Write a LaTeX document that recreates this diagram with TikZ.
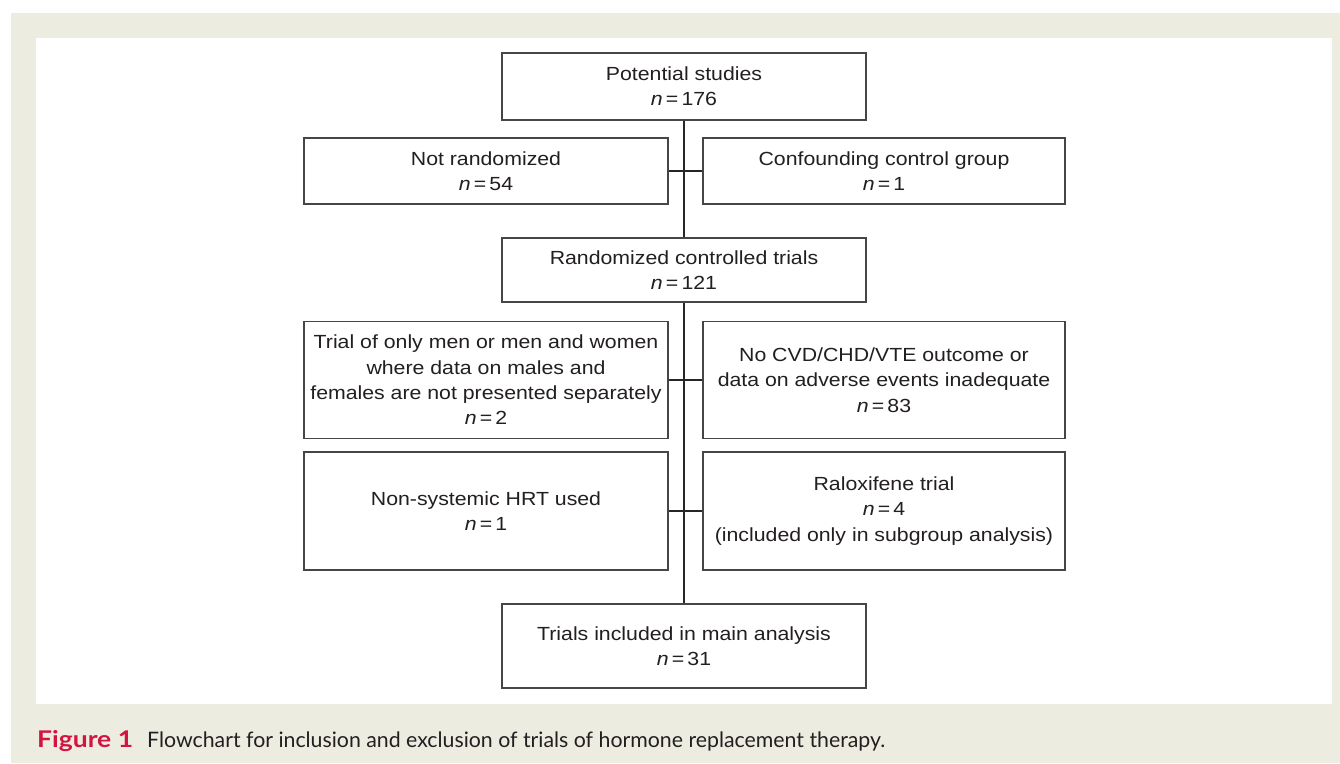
\documentclass[tikz,border=0pt]{standalone}
\usepackage{fontspec}
\setmainfont{Liberation Sans}
\newfontfamily\boxfont[FakeStretch=1.12]{Liberation Sans}
\newfontfamily\capfont{Lato}
\newfontfamily\figfont[FakeStretch=1.15]{Lato}
\definecolor{beige}{RGB}{237,236,225}
\definecolor{figred}{RGB}{211,20,65}
\definecolor{txt}{RGB}{35,31,32}
\definecolor{boxgray}{RGB}{70,70,70}
\newcommand{\nval}[1]{\textit{n}\,=\,#1}
\begin{document}
\begin{tikzpicture}[x=1pt,y=-1pt,
  box/.style={draw=boxgray, line width=1.2pt, align=center, inner sep=0pt,
    text=txt, font=\boxfont\fontsize{19}{25.3}\selectfont},
  link/.style={draw=black!85, line width=1.1pt}]
\useasboundingbox (0,0) rectangle (1340,763);
\fill[white] (0,0) rectangle (1340,763);
\fill[beige] (11,13) rectangle (1340,763);
\fill[white] (36,38) rectangle (1332,704);

\node[box, minimum width=364pt, minimum height=67pt] (ps) at (684,86.5) {Potential studies\\\nval{176}};
\node[box, minimum width=364pt, minimum height=66pt] (nr) at (486,171) {Not randomized\\\nval{54}};
\node[box, minimum width=362pt, minimum height=66pt] (cf) at (884,171) {Confounding control group\\\nval{1}};
\node[box, minimum width=364pt, minimum height=64pt] (rct) at (684,270) {Randomized controlled trials\\\nval{121}};
\node[box, minimum width=364pt, minimum height=117pt] (t1) at (486,380) {Trial of only men or men and women\\where data on males and\\females are not presented separately\\\nval{2}};
\node[box, minimum width=362pt, minimum height=117pt] (t2) at (884,380) {No CVD/CHD/VTE outcome or\\data on adverse events inadequate\\\nval{83}};
\node[box, minimum width=364pt, minimum height=118pt] (ns) at (486,511) {Non-systemic HRT used\\\nval{1}};
\node[box, minimum width=362pt, minimum height=118pt] (rx) at (884,511) {Raloxifene trial\\\nval{4}\\(included only in subgroup analysis)};
\node[box, minimum width=364pt, minimum height=84pt] (ti) at (684,646) {Trials included in main analysis\\\nval{31}};

\draw[link] (ps.south) -- (rct.north);
\draw[link] (rct.south) -- (ti.north);
\draw[link] (nr.east) -- (cf.west);
\draw[link] (t1.east) -- (t2.west);
\draw[link] (ns.east) -- (rx.west);

\node[anchor=base west, inner sep=0pt, text=figred, font=\figfont\bfseries\fontsize{23}{26}\selectfont] (figlabel) at (37,747) {Figure 1};
\node[anchor=base west, inner sep=0pt, text=txt, font=\capfont\fontsize{21.3}{24}\selectfont] (captext) at (147,747) {Flowchart for inclusion and exclusion of trials of hormone replacement therapy.};
\end{tikzpicture}
\end{document}
